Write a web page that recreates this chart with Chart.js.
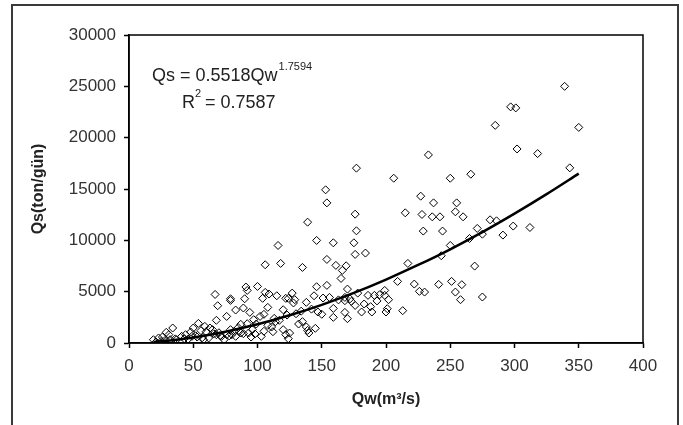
<!DOCTYPE html>
<html>
<head>
<meta charset="utf-8">
<script src="https://cdn.jsdelivr.net/npm/chart.js@4.4.0/dist/chart.umd.min.js"></script>
<style>
html, body { margin: 0; padding: 0; background: #fff; overflow: hidden; }
#frame { position: absolute; left: 11px; top: 4px; width: 664px; height: 500px; border: 2px solid #3a3a3a; border-bottom: none; }
#wrap { position: absolute; left: 0; top: 0; width: 683px; height: 425px; }
</style>
</head>
<body>
<div id="frame"></div>
<div id="wrap"><canvas id="myChart" width="683" height="425"></canvas></div>
<script>
// observed points, Qw (m3/s) and Qs (ton/gun)
const qw = [339, 297, 301, 350, 285, 302, 318, 233, 177, 343, 206, 250, 266, 153, 154, 227, 237, 255,
  215, 228, 236, 242, 254, 260, 176, 139, 177, 229, 244, 271, 281, 286, 299, 312, 291, 275, 265, 250,
  243, 269, 275, 251, 259, 254, 258, 241, 222, 226, 230, 213, 217, 209, 146, 159, 175, 116, 184, 176,
  154, 161, 169, 106, 118, 135, 166, 165, 154, 146, 170, 100, 91, 92, 67, 79, 79, 90, 104, 106, 109,
  115, 122, 124, 127, 129, 108, 69, 83, 89, 94, 76, 68, 138, 144, 151, 156, 168, 178, 168, 173, 176,
  181, 186, 191, 195, 199, 199, 202, 188, 189, 200, 201, 168, 170, 159, 159, 147, 145, 140, 139, 135,
  132, 138, 130, 120, 123, 117, 120, 122, 124, 114, 108, 105, 103, 102, 105, 97, 99, 92, 87, 93, 95,
  87, 82, 79, 76, 72, 65, 63, 59, 54, 56, 50, 48, 49, 44, 41, 34, 29, 31, 26, 23, 19, 21, 25, 32, 37,
  43, 53, 58, 62, 68, 74, 80, 83, 89, 98, 111, 112, 125, 60, 71, 85, 113, 128, 134, 142, 150, 163,
  172, 183, 193, 28, 36, 46, 52, 57, 66, 70, 78, 86, 96];
const qs = [25000, 23000, 22900, 21000, 21200, 18900, 18450, 18320, 17030, 17060, 16050, 16050, 16440,
  14920, 13650, 14300, 13650, 13650, 12680, 12520, 12290, 12290, 12780, 12290, 12550, 11770, 10930,
  10900, 10900, 11160, 12000, 11900, 11390, 11250, 10510, 10600, 10180, 9500, 8500, 7490, 4480, 6000,
  5680, 4960, 4220, 5710, 5740, 5030, 4960, 3150, 7750, 6000, 9990, 9760, 9760, 9500, 8760, 8630,
  8140, 7560, 7520, 7620, 7750, 7360, 7070, 6290, 5610, 5480, 5250, 5510, 5450, 5120, 4730, 4310,
  4150, 4310, 4350, 4930, 4770, 4600, 4350, 4350, 4860, 4220, 3470, 3630, 3210, 3410, 2980, 2590,
  2210, 3960, 4600, 4380, 4440, 4440, 4860, 4120, 4050, 3660, 3020, 4640, 4640, 4700, 5120, 4640,
  4220, 3540, 3020, 3020, 3340, 2980, 2370, 2500, 3370, 3020, 1430, 970, 1230, 2080, 1850, 1560,
  2850, 3240, 2720, 2210, 1300, 810, 420, 2080, 1720, 1140, 650, 2590, 2790, 2270, 1850, 1880, 1820,
  970, 580, 970, 1140, 1300, 810, 650, 1300, 1460, 1620, 1910, 1200, 1460, 1070, 650, 810, 650, 1460,
  1040, 810, 580, 490, 320, 100, 160, 320, 320, 420, 580, 320, 490, 810, 320, 810, 650, 910, 880,
  1560, 1100, 970, 1100, 700, 1500, 2400, 3900, 3100, 3300, 2800, 4200, 4300, 3800, 4100,
  240, 400, 380, 700, 520, 900, 1000, 700, 1150, 1300];

// power trend line
const trendQw = [19, 25, 50, 75, 100, 125, 150, 175, 200, 225, 250, 275, 300, 325, 350];
const trendQs = [100, 160, 540, 1100, 1820, 2700, 3720, 4880, 6180, 7600, 9130, 10800, 12600, 14500, 16500];

const xTicks = [0, 50, 100, 150, 200, 250, 300, 350, 400];
const yTicks = [0, 5000, 10000, 15000, 20000, 25000, 30000];

const font = 'Arial, "Liberation Sans", sans-serif';

const extras = {
  id: 'extras',
  afterDraw(chart) {
    const { ctx, chartArea: a } = chart;
    ctx.save();
    ctx.strokeStyle = '#000';
    ctx.lineWidth = 1.5;
    ctx.strokeRect(a.left, a.top, a.right - a.left, a.bottom - a.top);

    // equation text
    ctx.fillStyle = '#222';
    ctx.textBaseline = 'alphabetic';
    ctx.font = '18px ' + font;
    const eq = 'Qs = 0.5518Qw';
    ctx.fillText(eq, 152, 81);
    let w = ctx.measureText(eq).width;
    ctx.font = '11px ' + font;
    ctx.fillText('1.7594', 152 + w + 1, 70);

    ctx.font = '18px ' + font;
    ctx.fillText('R', 182, 108);
    w = ctx.measureText('R').width;
    ctx.font = '11px ' + font;
    ctx.fillText('2', 182 + w, 97);
    ctx.font = '18px ' + font;
    ctx.fillText(' = 0.7587', 182 + w + 5, 108);
    ctx.restore();
  }
};

const points = qw.map((x, i) => ({ x: x, y: qs[i] }));
const trend = trendQw.map((x, i) => ({ x: x, y: trendQs[i] }));

new Chart(document.getElementById('myChart'), {
  type: 'scatter',
  data: {
    datasets: [{
      data: points,
      pointStyle: 'rectRot',
      pointRadius: 4,
      pointBorderWidth: 1,
      borderColor: '#000',
      backgroundColor: 'rgba(255,255,255,0)'
    }, {
      type: 'line',
      data: trend,
      showLine: true,
      borderColor: '#000',
      borderWidth: 2.5,
      pointRadius: 0,
      tension: 0.4,
      cubicInterpolationMode: 'monotone'
    }]
  },
  options: {
    responsive: false,
    animation: false,
    layout: { padding: { left: 0, top: 35, right: 40, bottom: 0 } },
    plugins: { legend: { display: false }, tooltip: { enabled: false } },
    scales: {
      x: {
        type: 'linear',
        min: 0,
        max: 400,
        afterFit(scale) { scale.height = 82; },
        afterBuildTicks(scale) { scale.ticks = xTicks.map(v => ({ value: v })); },
        border: { color: '#000', width: 1.5 },
        grid: { drawOnChartArea: false, color: '#000', tickLength: 5, tickWidth: 1.5 },
        ticks: { color: '#333', padding: 8, font: { family: font, size: 17 }, callback: v => String(v) },
        title: {
          display: true,
          text: 'Qw(m³/s)',
          color: '#222',
          padding: { top: 0, bottom: 16 },
          font: { family: font, size: 16, weight: 'bold' }
        }
      },
      y: {
        min: 0,
        max: 30000,
        afterFit(scale) { scale.width = 129; },
        afterBuildTicks(scale) { scale.ticks = yTicks.map(v => ({ value: v })); },
        border: { color: '#000', width: 1.5 },
        grid: { drawOnChartArea: false, color: '#000', tickLength: 5, tickWidth: 1.5 },
        ticks: { color: '#333', padding: 8, font: { family: font, size: 17 }, callback: v => String(v) },
        title: {
          display: true,
          text: 'Qs(ton/gün)',
          color: '#222',
          padding: { top: 29, bottom: 0 },
          font: { family: font, size: 16, weight: 'bold' }
        }
      }
    }
  },
  plugins: [extras]
});
</script>
</body>
</html>
